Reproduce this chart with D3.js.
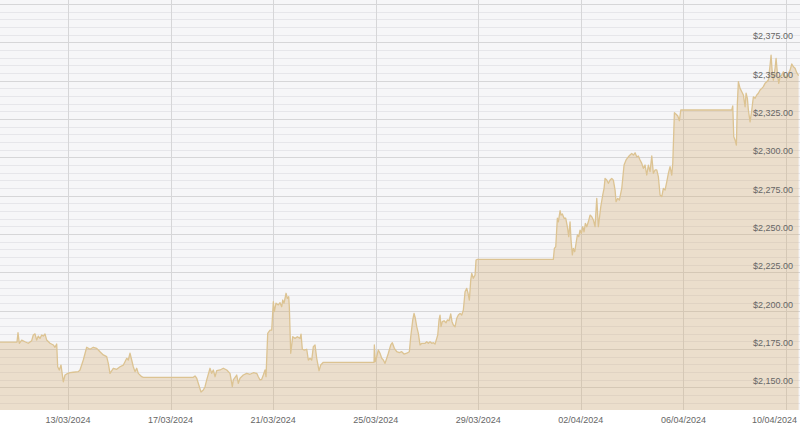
<!DOCTYPE html>
<html>
<head>
<meta charset="utf-8">
<script src="https://cdn.jsdelivr.net/npm/d3@7"></script>
<style>
  html, body { margin: 0; padding: 0; background: #ffffff; }
  svg { display: block; }
  text { font-family: "Liberation Sans", Arial, sans-serif; }
</style>
</head>
<body>
<svg id="chart" width="800" height="430"></svg>
<script>
// ---- Data ----
const times = [
  "2024-03-10 08:21","2024-03-11 00:16","2024-03-11 01:12","2024-03-11 02:25","2024-03-11 04:40","2024-03-11 07:45",
  "2024-03-11 10:50","2024-03-11 14:01","2024-03-11 15:31","2024-03-11 17:07","2024-03-11 18:42","2024-03-11 20:12",
  "2024-03-11 21:47","2024-03-11 23:23","2024-03-12 00:53","2024-03-12 02:28","2024-03-12 04:04","2024-03-12 07:09",
  "2024-03-12 10:14","2024-03-12 11:50","2024-03-12 13:25","2024-03-12 14:21","2024-03-12 15:51","2024-03-12 17:27",
  "2024-03-12 19:36","2024-03-12 21:11","2024-03-12 22:47","2024-03-13 01:52","2024-03-13 04:58","2024-03-13 09:38",
  "2024-03-13 11:14","2024-03-13 14:19","2024-03-13 17:30","2024-03-13 20:35","2024-03-13 23:41","2024-03-14 02:52",
  "2024-03-14 05:57","2024-03-14 09:02","2024-03-14 12:13","2024-03-14 13:43","2024-03-14 15:19","2024-03-14 18:24",
  "2024-03-14 21:35","2024-03-15 00:40","2024-03-15 03:46","2024-03-15 05:21","2024-03-15 06:57","2024-03-15 08:26",
  "2024-03-15 10:02","2024-03-15 11:37","2024-03-15 13:07","2024-03-15 14:43","2024-03-15 16:18","2024-03-15 17:48",
  "2024-03-15 20:59","2024-03-15 22:29","2024-03-17 21:17","2024-03-17 22:53","2024-03-18 00:28","2024-03-18 04:29",
  "2024-03-18 06:39","2024-03-18 08:14","2024-03-18 09:50","2024-03-18 12:55","2024-03-18 14:31","2024-03-18 16:01",
  "2024-03-18 17:36","2024-03-18 19:11","2024-03-18 22:17","2024-03-19 01:22","2024-03-19 04:33","2024-03-19 07:38",
  "2024-03-19 09:47","2024-03-19 10:43","2024-03-19 13:55","2024-03-19 15:25","2024-03-19 17:00","2024-03-19 20:05",
  "2024-03-19 23:16","2024-03-20 02:21","2024-03-20 05:27","2024-03-20 08:38","2024-03-20 10:08","2024-03-20 11:43",
  "2024-03-20 13:19","2024-03-20 14:49","2024-03-20 16:24","2024-03-20 17:20","2024-03-20 18:55","2024-03-20 21:05",
  "2024-03-20 22:40","2024-03-21 00:10","2024-03-21 01:06","2024-03-21 02:42","2024-03-21 04:51","2024-03-21 06:26",
  "2024-03-21 08:02","2024-03-21 08:58","2024-03-21 10:11","2024-03-21 12:04","2024-03-21 13:16","2024-03-21 14:35",
  "2024-03-21 15:09","2024-03-21 16:27","2024-03-21 18:20","2024-03-21 20:29","2024-03-21 22:38","2024-03-22 01:10",
  "2024-03-22 02:06","2024-03-22 03:19","2024-03-22 04:54","2024-03-22 07:26","2024-03-22 08:56","2024-03-22 10:31",
  "2024-03-22 12:07","2024-03-22 13:37","2024-03-22 15:12","2024-03-22 16:47","2024-03-22 18:56","2024-03-22 20:32",
  "2024-03-22 22:58","2024-03-24 22:26","2024-03-24 22:43","2024-03-24 23:38","2024-03-25 00:57","2024-03-25 02:27",
  "2024-03-25 04:02","2024-03-25 05:38","2024-03-25 07:08","2024-03-25 08:43","2024-03-25 10:19","2024-03-25 11:49",
  "2024-03-25 14:04","2024-03-25 15:34","2024-03-25 17:26","2024-03-25 19:41","2024-03-25 22:07","2024-03-26 00:21",
  "2024-03-26 02:30","2024-03-26 05:02","2024-03-26 07:28","2024-03-26 08:47","2024-03-26 10:39","2024-03-26 11:52",
  "2024-03-26 13:05","2024-03-26 14:24","2024-03-26 15:54","2024-03-26 17:29","2024-03-26 19:05","2024-03-26 22:10",
  "2024-03-26 23:46","2024-03-27 01:15","2024-03-27 02:51","2024-03-27 04:26","2024-03-27 05:56","2024-03-27 07:32",
  "2024-03-27 09:07","2024-03-27 10:03","2024-03-27 11:16","2024-03-27 12:12","2024-03-27 13:08","2024-03-27 14:21",
  "2024-03-27 15:57","2024-03-27 17:49","2024-03-27 19:02","2024-03-27 20:38","2024-03-27 22:13","2024-03-27 23:26",
  "2024-03-28 00:39","2024-03-28 02:15","2024-03-28 03:50","2024-03-28 05:20","2024-03-28 06:56","2024-03-28 08:31",
  "2024-03-28 10:01","2024-03-28 11:37","2024-03-28 13:12","2024-03-28 14:25","2024-03-28 15:38","2024-03-28 16:56",
  "2024-03-28 17:53","2024-03-28 19:22","2024-03-28 20:58","2024-03-28 21:54","2024-03-28 23:07","2024-03-31 22:15",
  "2024-03-31 23:12","2024-04-01 00:30","2024-04-01 02:00","2024-04-01 02:56","2024-04-01 04:32","2024-04-01 05:28",
  "2024-04-01 06:41","2024-04-01 08:16","2024-04-01 09:52","2024-04-01 11:22","2024-04-01 12:40","2024-04-01 13:53",
  "2024-04-01 14:49","2024-04-01 16:02","2024-04-01 16:58","2024-04-01 18:17","2024-04-01 19:30","2024-04-01 20:43",
  "2024-04-01 22:01","2024-04-01 23:14","2024-04-02 00:28","2024-04-02 01:47","2024-04-02 03:00","2024-04-02 04:13",
  "2024-04-02 05:31","2024-04-02 07:01","2024-04-02 08:37","2024-04-02 10:12","2024-04-02 11:42","2024-04-02 13:17",
  "2024-04-02 14:53","2024-04-02 16:23","2024-04-02 18:38","2024-04-02 20:30","2024-04-02 21:43","2024-04-02 22:39",
  "2024-04-03 00:14","2024-04-03 01:44","2024-04-03 03:20","2024-04-03 04:55","2024-04-03 06:25","2024-04-03 08:01",
  "2024-04-03 08:57","2024-04-03 10:32","2024-04-03 12:02","2024-04-03 14:17","2024-04-03 16:26","2024-04-03 18:19",
  "2024-04-03 20:28","2024-04-03 22:03","2024-04-03 23:38","2024-04-04 01:08","2024-04-04 02:44","2024-04-04 04:19",
  "2024-04-04 05:49","2024-04-04 07:25","2024-04-04 09:00","2024-04-04 10:30","2024-04-04 12:05","2024-04-04 13:41",
  "2024-04-04 15:11","2024-04-04 16:46","2024-04-04 18:22","2024-04-04 19:52","2024-04-04 21:27","2024-04-04 23:02",
  "2024-04-05 00:33","2024-04-05 02:08","2024-04-05 03:43","2024-04-05 05:13","2024-04-05 06:49","2024-04-05 08:24",
  "2024-04-05 09:54","2024-04-05 11:29","2024-04-05 13:05","2024-04-05 14:01","2024-04-05 15:33","2024-04-05 17:08",
  "2024-04-05 18:44","2024-04-05 20:13","2024-04-05 21:32","2024-04-07 21:15","2024-04-07 22:11","2024-04-07 23:07",
  "2024-04-08 00:20","2024-04-08 01:33","2024-04-08 02:29","2024-04-08 03:26","2024-04-08 05:01","2024-04-08 06:37",
  "2024-04-08 08:07","2024-04-08 09:42","2024-04-08 10:38","2024-04-08 11:51","2024-04-08 12:47","2024-04-08 14:23",
  "2024-04-08 15:58","2024-04-08 17:28","2024-04-08 19:04","2024-04-08 20:39","2024-04-08 22:08","2024-04-08 23:44",
  "2024-04-09 01:20","2024-04-09 02:50","2024-04-09 04:25","2024-04-09 06:01","2024-04-09 07:30","2024-04-09 09:06",
  "2024-04-09 10:02","2024-04-09 10:58","2024-04-09 12:11","2024-04-09 13:47","2024-04-09 14:43","2024-04-09 15:56",
  "2024-04-09 17:14","2024-04-09 18:28","2024-04-09 20:03","2024-04-09 21:32","2024-04-09 23:08","2024-04-10 00:44",
  "2024-04-10 02:14","2024-04-10 03:49","2024-04-10 05:25","2024-04-10 06:55","2024-04-10 08:30","2024-04-10 10:05",
  "2024-04-10 11:46"
];
const prices = [
  2179.6,2179.6,2185.7,2178.8,2180.9,2179.8,
  2178.8,2180.5,2184.2,2184.9,2180.9,2183.5,
  2182.0,2184.2,2183.5,2184.9,2180.9,2178.8,
  2177.7,2176.2,2178.3,2163.5,2161.4,2164.6,
  2153.7,2158.1,2158.8,2159.6,2159.9,2160.3,
  2161.4,2167.9,2176.2,2174.9,2176.2,2175.5,
  2173.3,2171.2,2170.1,2165.7,2159.2,2162.5,
  2161.8,2163.5,2164.6,2166.8,2169.0,2167.9,
  2172.3,2167.9,2163.5,2160.3,2162.5,2159.2,
  2157.0,2156.6,2156.6,2157.5,2156.0,2147.0,
  2148.3,2150.5,2154.9,2162.5,2159.2,2161.4,
  2157.0,2160.9,2161.4,2162.5,2161.4,2159.2,
  2150.5,2154.9,2158.1,2152.7,2156.0,2158.1,
  2159.2,2158.6,2159.6,2159.2,2157.0,2154.9,
  2155.3,2158.1,2161.4,2157.0,2185.3,2187.4,
  2187.4,2205.9,2199.4,2204.9,2203.8,2205.3,
  2202.6,2207.0,2204.9,2211.4,2208.1,2209.2,
  2202.6,2172.3,2183.1,2182.0,2183.1,2182.0,
  2184.8,2174.9,2174.4,2174.9,2167.9,2169.0,
  2167.9,2176.6,2177.7,2169.0,2160.9,2164.6,
  2166.4,2166.4,2177.7,2166.8,2170.1,2174.4,
  2172.3,2169.0,2167.9,2165.7,2169.0,2172.3,
  2177.7,2179.2,2175.5,2173.3,2172.7,2173.3,
  2171.8,2172.3,2173.3,2183.1,2194.0,2198.3,
  2195.1,2189.6,2185.3,2177.7,2178.8,2178.8,
  2179.8,2178.8,2179.8,2178.8,2179.2,2178.3,
  2182.0,2184.2,2194.0,2197.2,2189.6,2192.9,
  2193.5,2192.2,2194.0,2193.5,2197.9,2192.9,
  2190.7,2189.6,2195.1,2197.2,2198.3,2197.2,
  2200.5,2212.4,2214.6,2211.4,2207.0,2220.0,
  2224.4,2221.2,2223.3,2233.1,2233.5,2233.5,
  2240.7,2241.7,2260.3,2258.0,2265.2,2262.4,
  2263.1,2260.3,2260.3,2254.8,2248.3,2258.0,
  2246.1,2236.4,2240.7,2238.5,2244.0,2249.4,
  2248.3,2252.6,2250.4,2254.8,2251.5,2257.0,
  2254.8,2258.0,2262.4,2261.3,2259.2,2254.8,
  2273.3,2254.8,2267.8,2275.5,2279.8,2286.3,
  2285.2,2283.1,2285.2,2286.3,2285.2,2278.7,
  2271.1,2273.3,2272.2,2279.8,2295.0,2298.3,
  2300.4,2301.5,2302.6,2301.5,2303.0,2300.4,
  2300.9,2298.3,2296.1,2292.9,2295.0,2288.5,
  2295.0,2290.7,2300.9,2289.6,2291.8,2291.8,
  2287.4,2275.5,2274.4,2279.8,2278.7,2284.1,
  2289.6,2293.9,2288.5,2296.1,2329.1,2328.1,
  2327.0,2323.9,2330.9,2330.9,2333.5,2313.5,
  2311.3,2308.0,2335.2,2349.3,2345.0,2342.8,
  2340.7,2333.0,2341.8,2338.5,2330.9,2323.2,
  2330.9,2339.5,2338.5,2340.7,2341.8,2343.9,
  2345.0,2346.1,2348.3,2349.3,2350.4,2360.2,
  2366.7,2356.9,2350.4,2358.1,2364.6,2354.8,
  2348.3,2352.6,2353.7,2355.8,2352.6,2351.5,
  2354.8,2356.9,2360.9,2359.1,2358.1,2355.2,
  2353.3
];
const xTickLabels = ["13/03/2024","17/03/2024","21/03/2024","25/03/2024","29/03/2024","02/04/2024","06/04/2024","10/04/2024"];
const yMajorTicks = [2150, 2175, 2200, 2225, 2250, 2275, 2300, 2325, 2350, 2375, 2400];
const yLabelTicks = [2150, 2175, 2200, 2225, 2250, 2275, 2300, 2325, 2350, 2375];
const yMinorStep = 5;

// ---- Layout ----
const W = 800, H = 430;
const plotTop = 0, plotBottom = 410, plotLeft = 0, plotRight = 800;

const parseT = d3.utcParse("%Y-%m-%d %H:%M");
const parseTick = d3.utcParse("%d/%m/%Y");
const data = times.map((t, i) => ({ t: parseT(t), v: prices[i] }));
const tickDates = xTickLabels.map(parseTick);

const x = d3.scaleUtc()
  .domain([tickDates[0], tickDates[tickDates.length - 1]])
  .range([68, 786]);
const y = d3.scaleLinear()
  .domain([2135.3, 2402.6])
  .range([plotBottom, plotTop]);

const svg = d3.select("#chart");

svg.append("defs").append("clipPath").attr("id", "clip")
  .append("rect").attr("x", plotLeft).attr("y", plotTop)
  .attr("width", plotRight - plotLeft).attr("height", plotBottom - plotTop);

// plot background
svg.append("rect")
  .attr("x", plotLeft).attr("y", plotTop)
  .attr("width", plotRight - plotLeft).attr("height", plotBottom - plotTop)
  .attr("fill", "#f6f6f8");

// minor gridlines
const minorVals = d3.range(2140, 2401, yMinorStep).filter(v => v % 25 !== 0);
const grid = svg.append("g").attr("clip-path", "url(#clip)");
grid.selectAll("line.minor").data(minorVals).join("line")
  .attr("class", "minor")
  .attr("x1", plotLeft).attr("x2", plotRight)
  .attr("y1", d => Math.round(y(d)) + 0.5).attr("y2", d => Math.round(y(d)) + 0.5)
  .attr("stroke", "#e6e6ea").attr("stroke-width", 1);

grid.selectAll("line.major").data(yMajorTicks).join("line")
  .attr("class", "major")
  .attr("x1", plotLeft).attr("x2", plotRight)
  .attr("y1", d => Math.round(y(d)) + 0.5).attr("y2", d => Math.round(y(d)) + 0.5)
  .attr("stroke", "#d6d6d8").attr("stroke-width", 1);

grid.selectAll("line.vert").data(tickDates).join("line")
  .attr("class", "vert")
  .attr("x1", d => Math.round(x(d)) + 0.5).attr("x2", d => Math.round(x(d)) + 0.5)
  .attr("y1", plotTop).attr("y2", plotBottom)
  .attr("stroke", "#d6d6d8").attr("stroke-width", 1);

// area + line
const area = d3.area()
  .x(d => x(d.t))
  .y0(plotBottom)
  .y1(d => y(d.v));
const line = d3.line()
  .x(d => x(d.t))
  .y(d => y(d.v));

const g = svg.append("g").attr("clip-path", "url(#clip)");
g.append("path").datum(data)
  .attr("d", area)
  .attr("fill", "rgb(210,172,112)")
  .attr("fill-opacity", 0.32);
g.append("path").datum(data)
  .attr("d", line)
  .attr("fill", "none")
  .attr("stroke", "#dcc392")
  .attr("stroke-width", 1.3)
  .attr("stroke-linejoin", "round");

// y labels (inside plot, right side)
const fmt = d3.format("$,.2f");
svg.append("g").selectAll("text").data(yLabelTicks).join("text")
  .attr("x", 793)
  .attr("y", d => y(d) - 3)
  .attr("text-anchor", "end")
  .attr("font-size", 9)
  .attr("fill", "#666")
  .text(d => fmt(d));

// x labels
svg.append("g").selectAll("text").data(tickDates).join("text")
  .attr("x", (d, i) => i === tickDates.length - 1 ? 797 : x(d))
  .attr("y", 423)
  .attr("text-anchor", (d, i) => i === tickDates.length - 1 ? "end" : "middle")
  .attr("font-size", 9)
  .attr("fill", "#666")
  .text((d, i) => xTickLabels[i]);
</script>
</body>
</html>
